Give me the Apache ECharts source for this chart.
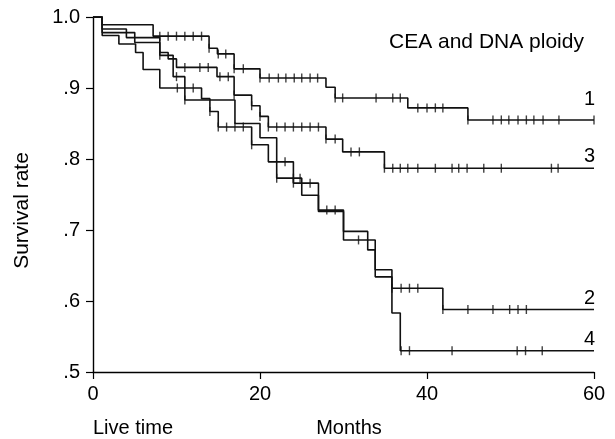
<!DOCTYPE html>
<html>
<head>
<meta charset="utf-8">
<script src="https://cdn.jsdelivr.net/npm/echarts@6/dist/echarts.min.js"></script>
<style>
html,body{margin:0;padding:0;background:#fff;}
#chart{width:615px;height:439px;}
</style>
</head>
<body>
<div id="chart"></div>
<script>
// ---- Data ----
const xTickLabels = ['0', '20', '40', '60'];
const yTickLabels = ['.5', '.6', '.7', '.8', '.9', '1.0'];
const groupNames = ['1', '2', '3', '4'];

// Group 1
const g1Times = [0, 1.1, 7.2, 13.9, 14.9, 16.9, 20.0, 27.9, 29.0, 37.7, 44.9];
const g1Surv  = [1.0, 0.989, 0.973, 0.956, 0.948, 0.927, 0.914, 0.901, 0.886, 0.872, 0.855];
const g1Censor = [8, 9, 10, 11, 12, 13, 13.9, 15.0, 15.9, 16.9, 18.0, 20.0, 21.1, 22.2, 23.1, 24.1, 25.0, 26.0, 26.9, 29.0, 29.9, 33.9, 35.9, 36.8, 38.9, 40.0, 41.0, 41.9, 44.9, 47.9, 48.9, 49.8, 50.9, 51.9, 52.8, 53.9, 55.8, 60];

// Group 2
const g2Times = [0, 1.1, 5.0, 8.0, 9.6, 11.0, 17.0, 20.0, 22.0, 25.0, 27.0, 30.0, 33.8, 35.8, 41.9];
const g2Surv  = [1.0, 0.978, 0.964, 0.946, 0.916, 0.883, 0.850, 0.830, 0.773, 0.749, 0.726, 0.686, 0.644, 0.618, 0.588];
const g2Censor = [8.0, 10.0, 11.0, 22.0, 24.0, 24.8, 31.8, 35.8, 36.9, 37.9, 38.9, 41.9, 44.9, 47.9, 49.9, 50.9, 51.9];

// Group 3
const g3Times = [0, 1.1, 4.0, 8.0, 9.0, 10.0, 14.85, 16.9, 19.0, 20.0, 21.0, 27.9, 29.9, 34.9];
const g3Surv  = [1.0, 0.983, 0.971, 0.950, 0.941, 0.929, 0.916, 0.890, 0.875, 0.860, 0.845, 0.828, 0.810, 0.787];
const g3Censor = [11.0, 12.8, 13.8, 15.2, 16.2, 16.9, 19.0, 20.0, 21.0, 22.0, 23.0, 24.0, 25.0, 26.0, 27.0, 27.9, 29.0, 30.9, 31.9, 34.9, 35.9, 36.8, 37.7, 38.9, 41.0, 43.0, 43.8, 44.8, 46.8, 48.9, 54.9, 55.7];

// Group 4
const g4Times = [0, 1.1, 3.1, 5.1, 6.0, 8.0, 13.0, 14.0, 15.0, 19.0, 21.0, 24.0, 27.0, 30.0, 32.9, 33.8, 35.8, 36.8];
const g4Surv  = [1.0, 0.974, 0.962, 0.950, 0.926, 0.900, 0.885, 0.867, 0.845, 0.820, 0.796, 0.766, 0.728, 0.698, 0.672, 0.634, 0.583, 0.530];
const g4Censor = [10.1, 12.0, 14.0, 15.0, 16.0, 17.0, 18.0, 19.0, 23.0, 24.0, 26.0, 28.0, 29.0, 36.9, 37.9, 43.0, 50.8, 51.8, 53.8];

const xMax = 60;

// label placement (style only)
const groupLabelOffsets = [[1, -10], [1, -1], [1, -2], [1, -1]];

// ---- Build series ----
function stepData(times, surv) {
  const d = times.map((t, i) => [t, surv[i]]);
  d.push([xMax, surv[surv.length - 1]]);
  return d;
}
function survAt(times, surv, t) {
  let v = surv[0];
  for (let i = 0; i < times.length; i++) if (t >= times[i] - 1e-9) v = surv[i];
  return v;
}
const groups = [
  {name: groupNames[0], times: g1Times, surv: g1Surv, censor: g1Censor},
  {name: groupNames[1], times: g2Times, surv: g2Surv, censor: g2Censor},
  {name: groupNames[2], times: g3Times, surv: g3Surv, censor: g3Censor},
  {name: groupNames[3], times: g4Times, surv: g4Surv, censor: g4Censor}
];
const fontFam = 'Liberation Sans, Arial, sans-serif';
const lineColor = '#111';
const series = [];
groups.forEach((g, gi) => {
  const last = g.surv[g.surv.length - 1];
  series.push({
    type: 'line', step: 'end', name: g.name,
    data: stepData(g.times, g.surv),
    symbol: 'none', silent: true,
    lineStyle: {color: lineColor, width: 1.6},
    markPoint: {
      symbol: 'rect', symbolSize: 1,
      itemStyle: {color: 'rgba(0,0,0,0)'},
      data: [{coord: [xMax, last]}],
      label: {show: true, formatter: g.name, color: '#000', fontSize: 20,
              fontFamily: fontFam,
              position: 'inside', align: 'right', verticalAlign: 'bottom',
              offset: groupLabelOffsets[gi]}
    }
  });
  series.push({
    type: 'scatter', silent: true,
    data: g.censor.map(t => [t, survAt(g.times, g.surv, t)]),
    symbol: 'rect', symbolSize: [1.4, 9],
    itemStyle: {color: lineColor}
  });
});

const chart = echarts.init(document.getElementById('chart'), null, {renderer: 'canvas'});
chart.setOption({
  animation: false,
  backgroundColor: '#fff',
  grid: {left: 93, right: 21, top: 17, bottom: 67, containLabel: false, outerBoundsMode: 'none'},
  xAxis: {
    type: 'value', min: 0, max: 60, interval: 20,
    name: 'Months', nameLocation: 'middle', nameGap: 46,
    nameTextStyle: {color: '#000', fontSize: 20, fontFamily: fontFam, padding: [0, 0, 0, 11]},
    axisLine: {show: true, lineStyle: {color: '#000', width: 1.4}},
    axisTick: {show: true, length: 7, lineStyle: {color: '#000', width: 1.2}},
    axisLabel: {color: '#000', fontSize: 20, fontFamily: fontFam, margin: 12,
                formatter: (v) => xTickLabels[Math.round(v / 20)]},
    splitLine: {show: false}
  },
  yAxis: {
    type: 'value', min: 0.5, max: 1.0, interval: 0.1,
    name: 'Survival rate', nameLocation: 'middle', nameGap: 60,
    nameTextStyle: {color: '#000', fontSize: 21, fontFamily: fontFam, padding: [0, 32, 0, 0]},
    axisLine: {show: true, lineStyle: {color: '#000', width: 1.4}},
    axisTick: {show: true, length: 7, lineStyle: {color: '#000', width: 1.2}},
    axisLabel: {color: '#000', fontSize: 20, fontFamily: fontFam, margin: 13,
                formatter: (v) => yTickLabels[Math.round((v - 0.5) / 0.1)]},
    splitLine: {show: false}
  },
  graphic: [
    {type: 'text', left: 389, top: 32, style: {text: 'CEA and DNA ploidy', fill: '#000', font: '21px Liberation Sans, Arial, sans-serif'}},
    {type: 'text', left: 93, top: 418, style: {text: 'Live time', fill: '#000', font: '20px Liberation Sans, Arial, sans-serif'}}
  ],
  series: series
});
</script>
</body>
</html>
